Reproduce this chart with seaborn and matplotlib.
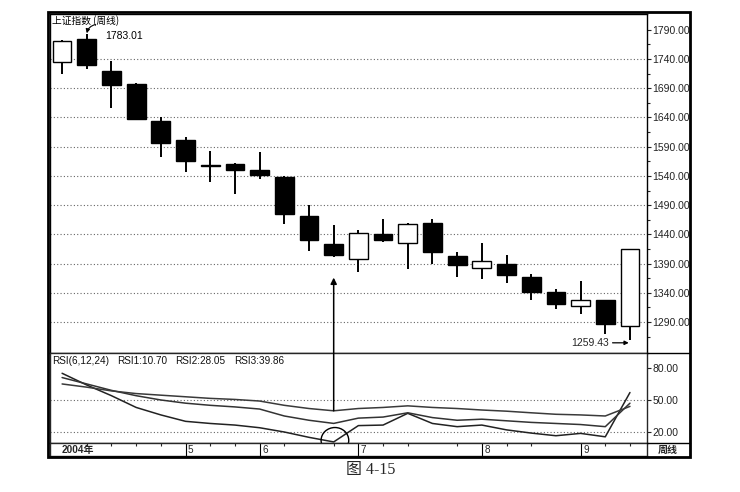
import numpy as np
import pandas as pd
import matplotlib
matplotlib.use("Agg")
import matplotlib.pyplot as plt
import seaborn as sns
from matplotlib.patches import Rectangle, Ellipse, ConnectionPatch
from matplotlib.lines import Line2D

# ---------------- data ----------------
opens  = [1735, 1774, 1720, 1698, 1634, 1602, 1559, 1561, 1550, 1538, 1472, 1424,
          1397, 1441, 1426, 1459, 1403, 1383, 1389, 1367, 1341, 1318, 1327, 1284]
closes = [1770, 1729, 1696, 1637, 1597, 1565, 1557, 1550, 1541, 1474, 1431, 1405,
          1442, 1431, 1457, 1409, 1388, 1394, 1370, 1342, 1321, 1328, 1287, 1415]
highs  = [1773, 1783.01, 1736, 1699, 1641, 1606, 1582, 1562, 1581, 1540, 1490, 1456,
          1448, 1467, 1459, 1466, 1409, 1425, 1405, 1372, 1346, 1360, 1328, 1415]
lows   = [1715, 1723, 1656, 1635, 1573, 1547, 1529, 1509, 1535, 1458, 1412, 1401,
          1376, 1427, 1380, 1389, 1367, 1364, 1356, 1327, 1313, 1303, 1270, 1259.43]

rsi1 = [75, 64, 54, 43, 36, 30, 28, 26.5, 24, 20, 15, 10.70,
        26, 26.5, 37.5, 28, 25, 26.5, 22, 19, 16.5, 18.7, 15.5, 57]
rsi2 = [71, 65, 59, 54, 50, 47, 45, 43.5, 41.5, 35, 31, 28.05,
        33, 34, 38, 33.5, 31, 32, 30.5, 29, 28, 27, 25, 47]
rsi3 = [65, 62, 58.5, 56, 54.5, 53, 51.5, 50.5, 49, 45, 42, 39.86,
        42, 43, 44.5, 43, 42, 40.6, 39.5, 38, 36.6, 36, 35, 44]

price_ticks = [1290, 1340, 1390, 1440, 1490, 1540, 1590, 1640, 1690, 1740, 1790]
rsi_ticks = [20, 50, 80]
month_idx = [5, 8, 12, 17, 21]
month_labels = ["5", "6", "7", "8", "9"]
title_text = "上证指数 (周线)"
legend_items = ["RSI(6,12,24)", "RSI1:10.70", "RSI2:28.05", "RSI3:39.86"]
year_label = "2004年"
period_label = "周线"
caption = "图 4-15"

# ---------------- style ----------------
sns.set_theme(style="white")
plt.rcParams['font.family'] = ['Liberation Sans', 'Noto Sans CJK SC', 'DejaVu Sans']
plt.rcParams['axes.linewidth'] = 1.0

W, H = 740, 492
fig = plt.figure(figsize=(W / 100, H / 100), dpi=100)
fig.patch.set_facecolor('white')


def rect(x0, y0, x1, y1):
    return [x0 / W, 1 - y1 / H, (x1 - x0) / W, (y1 - y0) / H]


ax = fig.add_axes(rect(50, 14, 647, 353))
axr = fig.add_axes(rect(50, 353, 647, 443), sharex=ax)
axs = fig.add_axes(rect(50, 443, 647, 456), sharex=ax)

x = np.arange(len(opens))
o, c, h, l = map(np.array, (opens, closes, highs, lows))
up = c >= o

# ---------------- candles ----------------
ax.vlines(x, l, h, color='black', lw=1.4, zorder=2)
ax.bar(x[up], (c - o)[up], bottom=o[up], width=0.76, color='white',
       edgecolor='black', lw=1.0, zorder=3)
ax.bar(x[~up], np.maximum((o - c)[~up], 1.5), bottom=c[~up], width=0.76,
       color='black', edgecolor='black', lw=1.0, zorder=3)

ax.set_xlim(-0.49, 23.69)
ax.set_ylim(1237, 1817)
for v in price_ticks[:-1]:
    ax.axhline(v, color='#666666', lw=0.8, ls=(0, (1, 2)), zorder=1)

ax.yaxis.tick_right()
ax.set_yticks(price_ticks)
ax.set_yticklabels([f"{v:.2f}" for v in price_ticks])
ax.set_yticks([v + 25 for v in price_ticks[:-1]] + [1265], minor=True)
ax.tick_params(axis='y', which='major', right=True, length=3, width=0.8,
               labelsize=7.5, colors='#222222', pad=1)
ax.tick_params(axis='y', which='minor', right=True, length=2, width=0.8)
ax.tick_params(axis='x', bottom=False, labelbottom=False)
for s in ax.spines.values():
    s.set_color('black')

ax.text(0.004, 0.997, title_text, transform=ax.transAxes, ha='left', va='top',
        fontsize=7.0, color='black', family=['Noto Sans CJK SC', 'DejaVu Sans'])
ax.annotate('', xy=(1, highs[1] + 1), xytext=(1.35, highs[1] + 16),
            arrowprops=dict(arrowstyle='-|>', color='black', lw=0.8,
                            mutation_scale=6, shrinkA=0, shrinkB=0,
                            connectionstyle='arc3,rad=0.3'))
ax.text(1.74, highs[1] - 4.5, f"{highs[1]:.2f}", ha='left', va='center',
        fontsize=7.5, color='black')
ax.annotate(f"{lows[-1]:.2f}", xy=(23 - 0.05, lows[-1] - 5), xytext=(-14, 0),
            textcoords='offset points', ha='right', va='center', fontsize=7.5,
            arrowprops=dict(arrowstyle='-|>', color='black', lw=0.9,
                            mutation_scale=6, shrinkA=0, shrinkB=0))

# ---------------- RSI ----------------
df = pd.DataFrame({
    'week': np.tile(x, 3),
    'rsi': np.r_[rsi1, rsi2, rsi3],
    'line': np.repeat(['RSI1', 'RSI2', 'RSI3'], len(x)),
})
sns.lineplot(data=df, x='week', y='rsi', hue='line',
             palette=['#222222', '#333333', '#3a3a3a'], lw=1.1,
             legend=False, ax=axr)
axr.set_ylim(9.7, 94)
for v in rsi_ticks[:2]:
    axr.axhline(v, color='#666666', lw=0.8, ls=(0, (1, 2)), zorder=1)
axr.yaxis.tick_right()
axr.set_yticks(rsi_ticks)
axr.set_yticklabels([f"{v:.2f}" for v in rsi_ticks])
axr.tick_params(axis='y', right=True, length=3, width=0.8, labelsize=7.5,
                colors='#222222', pad=1)
axr.tick_params(axis='x', bottom=False, labelbottom=False)
axr.set_xlabel('')
axr.set_ylabel('')
leg_x = [0.004, 0.113, 0.209, 0.308]
for t, lx in zip(legend_items, leg_x):
    axr.text(lx, 0.91, t, transform=axr.transAxes, ha='left', va='center',
             fontsize=7.2, color='#111111')

# circle around RSI low and arrow up to the candle
e = Ellipse((11.05, 12.2), width=1.12, height=24, fill=False, ec='black',
            lw=1.0, clip_on=False, zorder=5)
axr.add_patch(e)
con = ConnectionPatch(xyA=(11, rsi3[11]), coordsA=axr.transData,
                      xyB=(11, 1366), coordsB=ax.transData,
                      arrowstyle='-|>', mutation_scale=9, lw=1.1, color='black')
fig.add_artist(con)

# ---------------- bottom strip ----------------
axs.set_ylim(0, 1)
axs.set_yticks([])
axs.tick_params(axis='x', bottom=False, labelbottom=False)
axs.vlines(month_idx, 0, 1, color='black', lw=0.8)
axs.set_xticks([i for i in x if i not in month_idx], minor=True)
axs.tick_params(axis='x', which='minor', top=True, bottom=False, length=2,
                width=0.8, direction='in')
for i, t in zip(month_idx, month_labels):
    axs.text(i + 0.1, 0.45, t, ha='left', va='center', fontsize=7.2)
axs.text(0.02, 0.45, year_label, transform=axs.transAxes, ha='left',
         va='center', fontsize=7.2, fontweight='bold',
         family=['Liberation Sans', 'Noto Sans CJK SC'])

# ---------------- frame ----------------
fig.add_artist(Rectangle((48 / W, 1 - 457 / H), (690 - 48) / W, (457 - 12) / H,
                         transform=fig.transFigure, fill=False, ec='black',
                         lw=2.0))
for yy in (353, 443):
    fig.add_artist(Line2D([647 / W, 690 / W], [1 - yy / H, 1 - yy / H],
                          transform=fig.transFigure, color='black', lw=1.0))
fig.text(668 / W, 1 - 450 / H, period_label, ha='center', va='center',
         fontsize=7.2, fontweight='bold',
         family=['Noto Sans CJK SC', 'DejaVu Sans'])

fig.text(371 / W, 1 - 470 / H, caption, ha='center', va='center', fontsize=11.5,
         family=['Liberation Serif', 'Noto Sans CJK SC'])

fig.savefig('out.png', dpi=100, facecolor='white')
